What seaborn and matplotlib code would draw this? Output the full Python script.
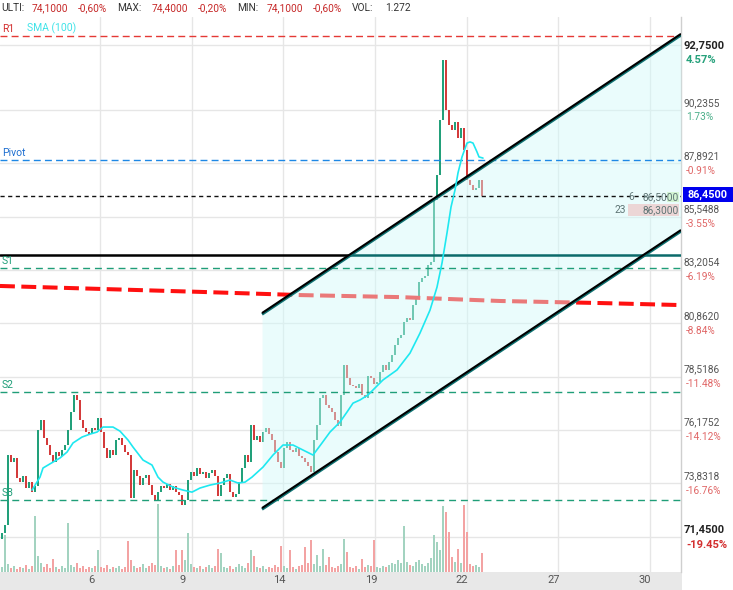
import numpy as np
import matplotlib
matplotlib.use("Agg")
import matplotlib.pyplot as plt
import seaborn as sns
from matplotlib import transforms
from matplotlib.patches import Rectangle

# ---------------- data ----------------
closes = [71.64, 71.99, 75.07, 74.76, 74.94, 74.06, 73.88, 74.15, 73.62, 73.88,
          73.44, 73.71, 76.17, 76.61, 75.82, 75.51, 75.07, 74.76, 75.20, 75.02,
          75.29, 75.51, 76.17, 76.96, 77.71, 77.49, 76.61, 76.26, 76.08, 75.99,
          76.26, 76.17, 76.70, 76.08, 75.38, 74.94, 75.29, 75.07, 75.73, 75.82,
          75.51, 75.20, 75.07, 73.18, 74.41, 74.15, 73.75, 74.06, 74.19, 73.75,
          73.31, 73.09, 73.44, 73.71, 73.62, 73.79, 73.53, 73.71, 73.44, 73.31,
          72.87, 73.09, 73.97, 74.32, 74.15, 74.50, 74.23, 74.32, 74.06, 74.28,
          74.41, 74.15, 73.27, 73.75, 74.06, 74.23, 73.44, 73.22, 73.35, 73.88,
          74.50, 75.07, 74.76, 76.39, 75.73, 75.90, 75.64, 76.08, 76.26, 75.99,
          75.73, 75.20, 74.76, 74.50, 75.38, 75.64, 75.29, 75.20, 75.38, 75.02,
          74.94, 74.76, 74.58, 74.32, 75.73, 76.39, 77.57, 77.71, 77.27, 77.13,
          76.96, 76.61, 76.34, 77.71, 79.02, 78.45, 78.15, 78.10, 78.01, 78.19,
          77.71, 77.57, 78.54, 78.45, 78.19, 78.28, 78.72, 79.02, 78.80, 79.16,
          79.46, 79.90, 80.21, 80.34, 80.92, 81.09, 81.00, 81.66, 81.97, 82.67,
          82.85, 82.94, 83.42, 83.55, 86.28, 87.38, 89.79, 92.43, 90.23, 89.57,
          89.36, 89.71, 89.00, 89.44, 88.48, 87.16, 86.94, 86.72, 86.81, 87.16,
          86.45]
first_open = 71.40

volumes = [500, 3700, 800, 400, 600, 300, 500, 400, 700, 300,
           600, 5600, 1600, 900, 500, 800, 400, 1300, 500, 300,
           600, 400, 4900, 700, 500, 900, 400, 600, 300, 500,
           400, 600, 2200, 500, 400, 700, 300, 500, 400, 600,
           300, 500, 3100, 1200, 600, 400, 500, 800, 400, 600,
           900, 700, 6800, 600, 400, 500, 300, 600, 2200, 700,
           2200, 1200, 3900, 800, 500, 400, 600, 300, 500, 700,
           400, 600, 2300, 1900, 500, 400, 600, 300, 500, 800,
           600, 400, 900, 2200, 1600, 500, 400, 600, 300, 500,
           400, 700, 500, 2600, 600, 400, 2200, 500, 300, 600,
           700, 2500, 900, 3200, 800, 1700, 600, 2300, 700, 1500,
           500, 400, 600, 800, 3300, 2000, 500, 400, 600, 300,
           1300, 500, 700, 600, 3200, 500, 400, 600, 500, 700,
           900, 800, 1200, 900, 4600, 1000, 700, 600, 1000, 1200,
           800, 600, 900, 1400, 3700, 3000, 2200, 6600, 6000, 4000,
           1500, 1000, 2300, 900, 6700, 4000, 800, 600, 700, 500,
           1900]

sma_pos = [10, 12.67, 13.67, 17, 19.33, 21.67, 23.67, 26.67, 29.33, 31.67,
           33.67, 37, 39.33, 42, 43.67, 47, 50, 52, 53.67, 57,
           60.33, 63.33, 66, 69.33, 72.67, 76, 78.67, 81, 83.33, 87,
           90.33, 93.67, 97, 100.33, 103.67, 106.67, 109.33, 112.67, 115, 117,
           119.33, 122, 127, 131.67, 136, 139.33, 142.67, 145, 146.67, 148.33,
           149.67, 151, 152, 153.33, 155, 156, 157, 158.33, 159, 160.33]
sma_vals = [73.53, 74.10, 74.50, 74.76, 74.94, 75.20, 75.60, 75.86, 75.99, 76.08,
            76.30, 76.30, 76.12, 75.73, 75.42, 74.85, 74.63, 74.10, 73.88, 73.66,
            73.53, 73.44, 73.62, 73.75, 73.84, 73.97, 73.84, 73.88, 74.10, 74.54,
            75.07, 75.51, 75.51, 75.29, 75.07, 75.60, 76.08, 76.52, 76.96, 77.35,
            77.49, 77.71, 78.37, 78.81, 79.55, 80.43, 81.44, 82.45, 83.51, 84.83,
            85.97, 86.72, 87.47, 88.17, 88.78, 88.83, 88.78, 88.39, 88.17, 88.12]

red_pos = [-0.67, 32.67, 66, 99.33, 132.67, 166, 199.33, 226.33]
red_vals = [82.50, 82.37, 82.24, 82.10, 82.01, 81.84, 81.75, 81.66]

R1, PIVOT, S1, S2, S3 = 93.49, 88.04, 83.29, 77.84, 73.09
LAST = 86.45
HLINE = 83.86

channel_pos = [86.67, 226.33]
channel_upper = [81.31, 93.58]
channel_lower = [72.74, 84.96]

grid_prices = [93.09, 90.2355, 87.8921, 85.5488, 83.2054, 80.862, 78.5186, 76.1752, 73.8318, 71.45]
right_prices = [92.75, 90.2355, 87.8921, 85.5488, 83.2054, 80.862, 78.5186, 76.1752, 73.8318, 71.45]
right_pcts = ['4.57%', '1.73%', '-0.91%', '-3.55%', '-6.19%', '-8.84%', '-11.48%', '-14.12%', '-16.76%', '-19.45%']

day_labels = ['6', '9', '14', '19', '22', '27', '30']
day_grid = [32.67, 63.33, 93.67, 124.33, 155, 185.33, 216]
day_label_pos = [29.67, 60.33, 92.33, 123, 153.33, 184, 214.33]

header = [("ULTI:", '#333333'), ("74,1000", '#c62828'), ("-0,60%", '#c62828'),
          ("MAX:", '#333333'), ("74,4000", '#c62828'), ("-0,20%", '#c62828'),
          ("MIN:", '#333333'), ("74,1000", '#c62828'), ("-0,60%", '#c62828'),
          ("VOL:", '#333333'), ("1.272", '#333333')]
header_x = [1, 32, 78, 117, 152, 198, 237, 267, 313, 352, 385]

# ---------------- style ----------------
sns.set_theme(style="white")
plt.rcParams['font.family'] = ['Roboto', 'DejaVu Sans']

GREEN = '#22a07a'
RED = '#d43b3b'
W, H = 733, 590

fig = plt.figure(figsize=(W / 100, H / 100), dpi=100)
fig.patch.set_facecolor('white')

# bottom date band (behind everything)
band = fig.add_axes([0, 0, 682 / W, 18 / H], zorder=-5)
band.set_facecolor('#e8e8e8')
band.set_xticks([])
band.set_yticks([])
for s in band.spines.values():
    s.set_visible(False)

ax = fig.add_axes([0, 18 / H, 681 / W, 555 / H], zorder=1)
ax.set_xlim(-0.667, 226.33)
ax.set_ylim(69.93, 94.32)
ax.set_facecolor('none')
for s in ['top', 'left', 'bottom']:
    ax.spines[s].set_visible(False)
ax.spines['right'].set_color('#cfcfcf')
ax.spines['right'].set_linewidth(1)

# grid
for g in grid_prices:
    ax.axhline(g, color='#e6e6e6', lw=1, zorder=0.5)
for g in day_grid:
    ax.axvline(g, color='#e6e6e6', lw=1, zorder=0.5)

# candles
closes_a = np.array(closes)
opens_a = np.array([first_open] + closes[:-1])
idx = np.arange(len(closes_a))
lo = np.minimum(opens_a, closes_a)
hgt = np.maximum(np.abs(closes_a - opens_a), 0.05)
cols = [GREEN if c >= o else RED for o, c in zip(opens_a, closes_a)]
ax.bar(idx, hgt, bottom=lo, width=0.8, color=cols, linewidth=0, zorder=2)

# red thick dashed line
ax.plot(red_pos, red_vals, color='#ff1010', lw=2.9, dashes=(3.7, 1.6), zorder=2.5,
        solid_capstyle='butt', dash_capstyle='butt')

# channel fill (on top of candles)
ax.fill_between(channel_pos, channel_lower, channel_upper, color='#d2fafa',
                alpha=0.45, lw=0, zorder=4)

# horizontal solid line: black outside channel, teal inside
slope = (channel_upper[1] - channel_upper[0]) / (channel_pos[1] - channel_pos[0])
x_cross = channel_pos[0] + (HLINE - channel_upper[0]) / slope
ax.plot([-0.667, x_cross], [HLINE, HLINE], color='black', lw=1.8, zorder=5)
ax.plot([x_cross, 226.33], [HLINE, HLINE], color='#0b6a6a', lw=1.8, zorder=5)

# reference dashed lines
ax.axhline(R1, color='#e53935', lw=1, dashes=(5, 3), zorder=5)
ax.axhline(PIVOT, color='#1e88e5', lw=1, dashes=(5, 3), zorder=5)
for s in (S1, S2, S3):
    ax.axhline(s, color='#1f9e78', lw=1, dashes=(5, 3.5), zorder=5)
ax.axhline(LAST, color='#111111', lw=1, dashes=(3, 2.5), zorder=5)

# channel lines (teal underside + black)
off = transforms.offset_copy(ax.transData, fig=fig, x=0, y=-1.3, units='dots')
for ys in (channel_upper, channel_lower):
    ax.plot(channel_pos, ys, color='#0d7070', lw=2.0, transform=off, zorder=6,
            solid_capstyle='butt')
    ax.plot(channel_pos, ys, color='black', lw=1.5, zorder=6.5, solid_capstyle='butt')

# SMA
sns.lineplot(x=sma_pos, y=sma_vals, ax=ax, color='#1ee8f0', lw=1.2, zorder=7)

# level labels
lbl_tr = transforms.blended_transform_factory(ax.transAxes, ax.transData)


def lvl_label(txt, y, color, xpx=2):
    ax.annotate(txt, xy=(xpx / 681, y), xycoords=lbl_tr,
                xytext=(0, 5.2), textcoords='offset points', ha='left', va='center',
                fontsize=7.5, color=color, zorder=9)


lvl_label('R1', R1, '#d32f2f')
lvl_label('SMA (100)', R1, '#3fe3e8', xpx=27)
lvl_label('Pivot', PIVOT, '#1e6fd0')
lvl_label('S1', S1, '#1f9e78')
lvl_label('S2', S2, '#1f9e78')
lvl_label('S3', S3, '#1f9e78')

# order-book style tags near the right edge
ax.add_patch(Rectangle((208.67, 85.57), 17.0, 0.53, facecolor='#ecd6d6', edgecolor='none', zorder=8))
ax.add_patch(Rectangle((221.67, 86.19), 4.0, 0.46, facecolor='#d4f5d4', edgecolor='none', zorder=8))
ax.text(209.67, 86.41, '6', fontsize=7.3, color='#5d7474', ha='center', va='center', zorder=9)
ax.text(225.7, 86.41, '86,5000', fontsize=7.3, color='#5d7474', ha='right', va='center', zorder=9)
ax.text(206, 85.84, '23', fontsize=7.3, color='#5d7474', ha='center', va='center', zorder=9)
ax.text(225.7, 85.84, '86,3000', fontsize=7.3, color='#5d7474', ha='right', va='center', zorder=9)

# x tick labels
ax.set_xticks(day_label_pos)
ax.set_xticklabels(day_labels)
ax.tick_params(axis='x', length=0, pad=2.5, labelsize=8, colors='#555555')
ax.set_yticks([])
ax.set_xlabel('')
ax.set_ylabel('')

# volume
ax2 = ax.twinx()
ax2.set_ylim(0, 55500)
vcols = ['#a3d3c0' if c >= o else '#f3a3a3' for o, c in zip(opens_a, closes_a)]
ax2.bar(idx, volumes, width=0.8, color=vcols, linewidth=0, zorder=1)
ax2.set_yticks([])
for s in ax2.spines.values():
    s.set_visible(False)
ax2.set_xlim(-0.667, 226.33)

# right price labels
blend = transforms.blended_transform_factory(fig.transFigure, ax.transData)
for i, (p, pct) in enumerate(zip(right_prices, right_pcts)):
    edge = i in (0, len(right_prices) - 1)
    ptxt = f"{p:.4f}".replace('.', ',')
    pos = not pct.startswith('-')
    if edge:
        pcol = '#26a17b' if pos else '#d32f2f'
    else:
        pcol = '#4caf8a' if pos else '#e06666'
    ax.annotate(ptxt, xy=(684 / W, p), xycoords=blend, xytext=(0, 5.2), textcoords='offset points',
                ha='left', va='center', fontsize=8 if edge else 7.3,
                fontweight='bold' if edge else 'normal',
                color='#222222' if edge else '#555555', annotation_clip=False)
    ax.annotate(pct, xy=(686 / W, p), xycoords=blend, xytext=(0, -5.4), textcoords='offset points',
                ha='left', va='center', fontsize=8 if edge else 7.3,
                fontweight='bold' if edge else 'normal', color=pcol, annotation_clip=False)

# current price box
ax.add_patch(Rectangle((683 / W, LAST - 0.28), 50 / W, 0.68, transform=blend,
                       facecolor='#0000ee', edgecolor='none', clip_on=False, zorder=10))
ax.annotate(f"{LAST:.4f}".replace('.', ','), xy=(708 / W, LAST + 0.06), xycoords=blend,
            ha='center', va='center', fontsize=7.8, fontweight='bold', color='white',
            annotation_clip=False, zorder=11)

# header
for (txt, col), xp in zip(header, header_x):
    fig.text(xp / W, 1 - 8 / H, txt, fontsize=7.3, color=col, ha='left', va='center')

fig.savefig('out.png', dpi=100)
